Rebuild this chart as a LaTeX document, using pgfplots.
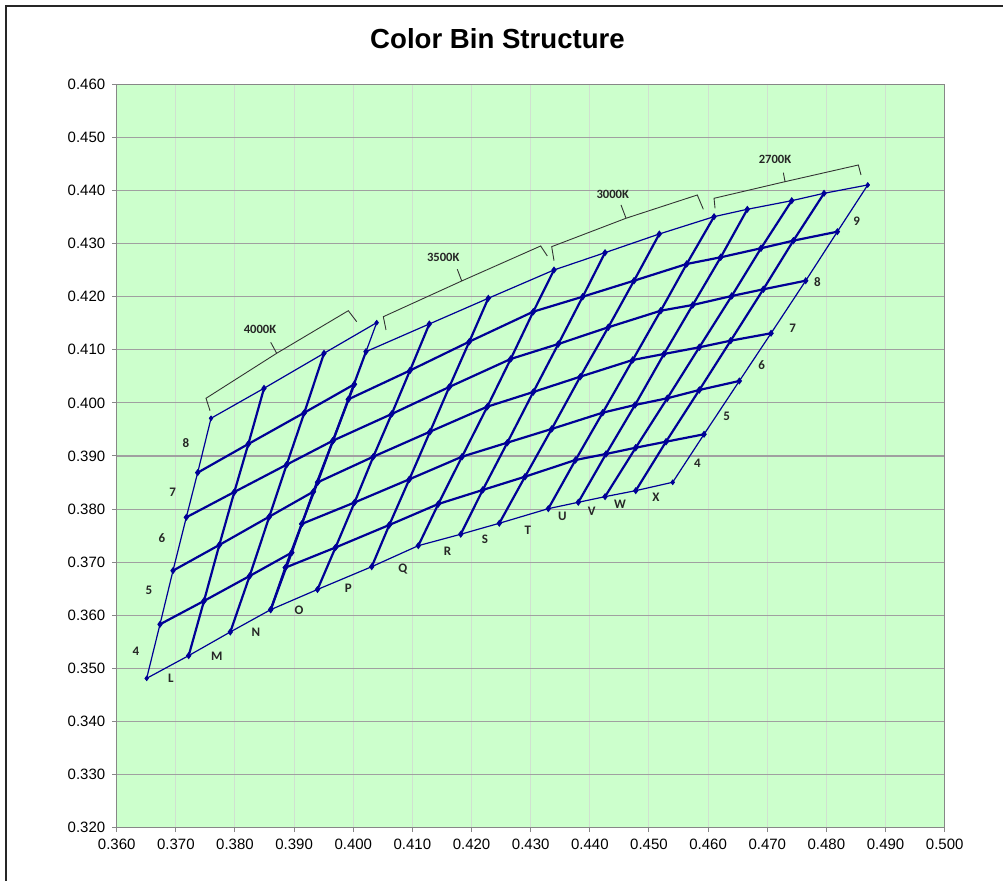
\documentclass[border=0pt]{standalone}
\usepackage{fontspec}
\setmainfont{Liberation Sans}
\newfontfamily\binfont{Carlito}
\usepackage{pgfplots}
\pgfplotsset{compat=1.18}

\definecolor{plotbg}{RGB}{204,255,204}
\definecolor{hgrid}{RGB}{160,160,160}
\definecolor{vgrid}{RGB}{208,224,208}
\definecolor{axgray}{RGB}{135,135,135}
\definecolor{binblue}{RGB}{0,0,150}

\tikzset{
  thk/.style={color=binblue, line width=1.1pt, mark=diamond*, mark size=0.9pt, mark options={solid}},
  thn/.style={color=binblue, line width=0.6pt, mark=diamond*, mark size=0.9pt, mark options={solid}},
  brace/.style={color=black!80, line width=0.45pt, mark=none},
  binlbl/.style={font=\binfont\bfseries\fontsize{6.5}{7}\selectfont, text=black!85, inner sep=0pt},
  cctlbl/.style={font=\binfont\bfseries\fontsize{6.3}{7}\selectfont, text=black!85, inner sep=0pt}
}

\begin{document}
\begin{tikzpicture}
\useasboundingbox (0pt,0pt) rectangle (501.5pt,440.5pt);
\draw[line width=1.3pt, draw=black!85] (3pt,-2pt) -- (3pt,437.5pt) -- (505pt,437.5pt);
\node[font=\bfseries\fontsize{13.8}{16}\selectfont, anchor=base, inner sep=0pt] at (248.75pt,416.3pt) {Color Bin Structure};

\begin{axis}[
  at={(58.35pt,26.65pt)}, anchor=south west,
  scale only axis, width=414pt, height=371.7pt,
  xmin=0.36, xmax=0.50, ymin=0.32, ymax=0.46,
  xtick={0.36,0.37,0.38,0.39,0.40,0.41,0.42,0.43,0.44,0.45,0.46,0.47,0.48,0.49,0.50},
  ytick={0.32,0.33,0.34,0.35,0.36,0.37,0.38,0.39,0.40,0.41,0.42,0.43,0.44,0.45,0.46},
  /pgf/number format/.cd, fixed, fixed zerofill, precision=3, assume math mode=true, /pgfplots/.cd,
  ticklabel style={font=\fontsize{7.5}{9}\selectfont},
  axis background/.style={fill=plotbg},
  grid=major,
  major x grid style={color=vgrid, line width=0.5pt},
  major y grid style={color=hgrid, line width=0.55pt},
  tick align=outside, tick pos=left, major tick length=2.2pt,
  tick style={color=axgray, line width=0.5pt},
  axis line style={color=axgray, line width=0.6pt},
]

% ---- 4000K block: rows
\addplot[thn] coordinates {(0.36507,0.34813) (0.37217,0.35240) (0.37921,0.35686) (0.38604,0.36106)};
\addplot[thk] coordinates {(0.36732,0.35830) (0.37476,0.36270) (0.38248,0.36740) (0.38959,0.37180)};
\addplot[thk] coordinates {(0.36952,0.36841) (0.37735,0.37324) (0.38581,0.37858) (0.39325,0.38328)};
\addplot[thk] coordinates {(0.37177,0.37845) (0.37989,0.38322) (0.38874,0.38837) (0.39657,0.39289)};
\addplot[thk] coordinates {(0.37369,0.38686) (0.38226,0.39226) (0.39173,0.39816) (0.40018,0.40350)};
\addplot[thn] coordinates {(0.37595,0.39710) (0.38491,0.40275) (0.39505,0.40934) (0.40396,0.41511)};
% ---- 4000K block: columns
\addplot[thn] coordinates {(0.36507,0.34813) (0.36732,0.35830) (0.36952,0.36841) (0.37177,0.37845) (0.37369,0.38686) (0.37595,0.39710)};
\addplot[thk] coordinates {(0.37217,0.35240) (0.37476,0.36270) (0.37735,0.37324) (0.37989,0.38322) (0.38226,0.39226) (0.38491,0.40275)};
\addplot[thk] coordinates {(0.37921,0.35686) (0.38248,0.36740) (0.38581,0.37858) (0.38874,0.38837) (0.39173,0.39816) (0.39505,0.40934)};
\addplot[thk] coordinates {(0.38604,0.36106) (0.38959,0.37180) (0.39325,0.38328) (0.39657,0.39289) (0.40018,0.40350)};
\addplot[thn] coordinates {(0.40396,0.41511) (0.40215,0.40965)};

% ---- 3500K / 3000K / 2700K: rows
\addplot[thn] coordinates {(0.38604,0.36106) (0.39395,0.36486) (0.40312,0.36915) (0.41100,0.37311) (0.41817,0.37526) (0.42469,0.37733) (0.43298,0.38008) (0.43805,0.38128) (0.44257,0.38234) (0.44776,0.38347) (0.45401,0.38505)};
\addplot[thk] coordinates {(0.38851,0.36897) (0.39700,0.37277) (0.40609,0.37701) (0.41438,0.38096) (0.42189,0.38360) (0.42904,0.38610) (0.43758,0.38925) (0.44274,0.39038) (0.44776,0.39156) (0.45288,0.39269) (0.45931,0.39409)};
\addplot[thk] coordinates {(0.39128,0.37720) (0.40021,0.38124) (0.40948,0.38561) (0.41839,0.38987) (0.42605,0.39251) (0.43355,0.39509) (0.44218,0.39816) (0.44764,0.39961) (0.45310,0.40087) (0.45851,0.40243) (0.46528,0.40413)};
\addplot[thk] coordinates {(0.39398,0.38504) (0.40339,0.38987) (0.41298,0.39458) (0.42267,0.39929) (0.43044,0.40205) (0.43839,0.40494) (0.44725,0.40808) (0.45254,0.40921) (0.45851,0.41047) (0.46382,0.41172) (0.47064,0.41311)};
\addplot[thk] coordinates {(0.39657,0.39289) (0.40650,0.39791) (0.41624,0.40300) (0.42662,0.40827) (0.43467,0.41109) (0.44312,0.41424) (0.45199,0.41736) (0.45740,0.41844) (0.46399,0.42013) (0.46933,0.42139) (0.47650,0.42301)};
\addplot[thk] coordinates {(0.39917,0.40067) (0.40959,0.40610) (0.41962,0.41153) (0.43044,0.41718) (0.43880,0.42000) (0.44747,0.42301) (0.45638,0.42616) (0.46213,0.42742) (0.46894,0.42912) (0.47441,0.43055) (0.48185,0.43224)};
\addplot[thn] coordinates {(0.40215,0.40965) (0.41286,0.41486) (0.42283,0.41970) (0.43394,0.42503) (0.44257,0.42829) (0.45175,0.43181) (0.46100,0.43507) (0.46663,0.43646) (0.47414,0.43808) (0.47960,0.43947) (0.48699,0.44104)};
% ---- 3500K / 3000K / 2700K: columns
\addplot[thk] coordinates {(0.38604,0.36106) (0.38851,0.36897) (0.39128,0.37720) (0.39398,0.38504) (0.39657,0.39289) (0.39917,0.40067) (0.40215,0.40965)};
\addplot[thk] coordinates {(0.39395,0.36486) (0.39700,0.37277) (0.40021,0.38124) (0.40339,0.38987) (0.40650,0.39791) (0.40959,0.40610) (0.41286,0.41486)};
\addplot[thk] coordinates {(0.40312,0.36915) (0.40609,0.37701) (0.40948,0.38561) (0.41298,0.39458) (0.41624,0.40300) (0.41962,0.41153) (0.42283,0.41970)};
\addplot[thk] coordinates {(0.41100,0.37311) (0.41438,0.38096) (0.41839,0.38987) (0.42267,0.39929) (0.42662,0.40827) (0.43044,0.41718) (0.43394,0.42503)};
\addplot[thk] coordinates {(0.41817,0.37526) (0.42189,0.38360) (0.42605,0.39251) (0.43044,0.40205) (0.43467,0.41109) (0.43880,0.42000) (0.44257,0.42829)};
\addplot[thk] coordinates {(0.42469,0.37733) (0.42904,0.38610) (0.43355,0.39509) (0.43839,0.40494) (0.44312,0.41424) (0.44747,0.42301) (0.45175,0.43181)};
\addplot[thk] coordinates {(0.43298,0.38008) (0.43758,0.38925) (0.44218,0.39816) (0.44725,0.40808) (0.45199,0.41736) (0.45638,0.42616) (0.46100,0.43507)};
\addplot[thk] coordinates {(0.43805,0.38128) (0.44274,0.39038) (0.44764,0.39961) (0.45254,0.40921) (0.45740,0.41844) (0.46213,0.42742) (0.46663,0.43646)};
\addplot[thk] coordinates {(0.44257,0.38234) (0.44776,0.39156) (0.45310,0.40087) (0.45851,0.41047) (0.46399,0.42013) (0.46894,0.42912) (0.47414,0.43808)};
\addplot[thk] coordinates {(0.44776,0.38347) (0.45288,0.39269) (0.45851,0.40243) (0.46382,0.41172) (0.46933,0.42139) (0.47441,0.43055) (0.47960,0.43947)};
\addplot[thn] coordinates {(0.45401,0.38505) (0.45931,0.39409) (0.46528,0.40413) (0.47064,0.41311) (0.47650,0.42301) (0.48185,0.43224) (0.48699,0.44104)};

% ---- CCT braces
\addplot[brace] coordinates {(0.37578,0.39853) (0.37510,0.40087) (0.38705,0.40934) (0.38604,0.41141) (0.38705,0.40934) (0.39916,0.41736) (0.40058,0.41529)};
\addplot[brace] coordinates {(0.40554,0.41373) (0.40508,0.41623) (0.41834,0.42296) (0.41759,0.42516) (0.41834,0.42296) (0.43169,0.42955) (0.43281,0.42766)};
\addplot[brace] coordinates {(0.43394,0.42678) (0.43355,0.42942) (0.44612,0.43477) (0.44527,0.43727) (0.44612,0.43477) (0.45817,0.43915) (0.45919,0.43646)};
\addplot[brace] coordinates {(0.46117,0.43665) (0.46100,0.43853) (0.47300,0.44166) (0.47272,0.44335) (0.47300,0.44166) (0.48540,0.44480) (0.48585,0.44292)};

\node[cctlbl] at (axis cs:0.38423,0.41386) {4000K};
\node[cctlbl] at (axis cs:0.41522,0.42742) {3500K};
\node[cctlbl] at (axis cs:0.44387,0.43934) {3000K};
\node[cctlbl] at (axis cs:0.47131,0.44588) {2700K};

% ---- bin names
\node[binlbl] at (axis cs:0.36918,0.34819) {L};
\node[binlbl] at (axis cs:0.37691,0.35234) {M};
\node[binlbl] at (axis cs:0.38355,0.35673) {N};
\node[binlbl] at (axis cs:0.39083,0.36100) {O};
\node[binlbl] at (axis cs:0.39916,0.36501) {P};
\node[binlbl] at (axis cs:0.40836,0.36878) {Q};
\node[binlbl] at (axis cs:0.41594,0.37211) {R};
\node[binlbl] at (axis cs:0.42228,0.37431) {S};
\node[binlbl] at (axis cs:0.42950,0.37607) {T};
\node[binlbl] at (axis cs:0.43535,0.37857) {U};
\node[binlbl] at (axis cs:0.44032,0.37951) {V};
\node[binlbl] at (axis cs:0.44510,0.38096) {W};
\node[binlbl] at (axis cs:0.45119,0.38215) {X};

\node[binlbl] at (axis cs:0.36326,0.35328) {4};
\node[binlbl] at (axis cs:0.36546,0.36477) {5};
\node[binlbl] at (axis cs:0.36766,0.37456) {6};
\node[binlbl] at (axis cs:0.36947,0.38309) {7};
\node[binlbl] at (axis cs:0.37172,0.39239) {8};

\node[binlbl] at (axis cs:0.45817,0.38863) {4};
\node[binlbl] at (axis cs:0.46314,0.39740) {5};
\node[binlbl] at (axis cs:0.46906,0.40714) {6};
\node[binlbl] at (axis cs:0.47431,0.41405) {7};
\node[binlbl] at (axis cs:0.47846,0.42271) {8};
\node[binlbl] at (axis cs:0.48513,0.43413) {9};
\end{axis}
\end{tikzpicture}
\end{document}
